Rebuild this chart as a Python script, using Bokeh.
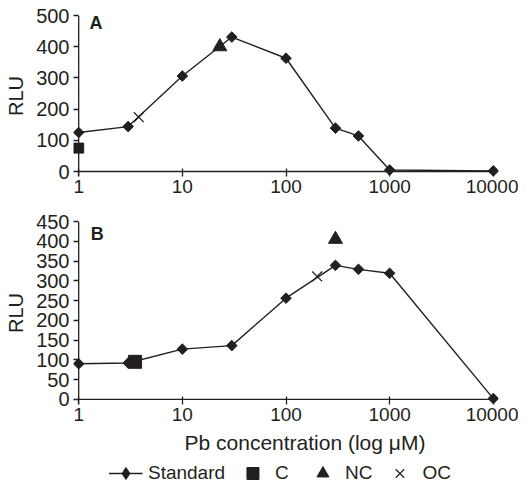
import numpy as np
from bokeh.plotting import figure
from bokeh.layouts import column
from bokeh.models import (FixedTicker, NumeralTickFormatter, Label, Legend,
                          LegendItem, Range1d, Span, Title)
from bokeh.embed import file_html
from bokeh.resources import INLINE

# ---------------- data ----------------
conc = [1, 3, 10, 30, 100, 300, 500, 1000, 10000]
rlu_a = [125, 144, 306, 431, 363, 139, 114, 5, 2]
rlu_b = [90, 92, 127, 136, 256, 339, 329, 319, 2]

c_a_x, c_a_y = [1], [75]
nc_a_x, nc_a_y = [23], [400]
oc_a_x, oc_a_y = [3.8], [174]

c_b_x, c_b_y = [3.5], [95]
nc_b_x, nc_b_y = [300], [405]
oc_b_x, oc_b_y = [200], [311]

x_ticks = [1, 10, 100, 1000, 10000]
y_ticks_a = [0, 100, 200, 300, 400, 500]
y_ticks_b = [0, 50, 100, 150, 200, 250, 300, 350, 400, 450]

legend_labels = ["Standard", "C", "NC", "OC"]
x_title = "Pb concentration (log μM)"
y_title = "RLU"

# ---------------- style ----------------
FONT = "Liberation Sans"
INK = "#231f20"
LEFT = 73
RIGHT = 20
FRAME_W = 425
W = LEFT + FRAME_W + RIGHT
X_RANGE = (10 ** -0.05, 10 ** 4.05)


def make_panel(ys, c, nc, oc, y_range, y_ticks, c_size,
               frame_h, top, bottom, letter, letter_xy):
    p = figure(frame_width=FRAME_W, frame_height=frame_h, x_axis_type="log",
               x_range=Range1d(*X_RANGE), y_range=Range1d(*y_range),
               output_backend="svg", toolbar_location=None,
               min_border_left=LEFT, min_border_right=RIGHT,
               min_border_top=top, min_border_bottom=bottom)
    p.outline_line_color = None
    p.xgrid.visible = False
    p.ygrid.visible = False
    p.background_fill_color = "white"
    p.border_fill_color = "white"

    xa = p.xaxis[0]
    xa.ticker = FixedTicker(ticks=x_ticks)
    xa.formatter = NumeralTickFormatter(format="0")
    xa.major_tick_in = 8
    xa.major_tick_out = 0
    xa.minor_tick_line_color = None
    xa.major_label_standoff = 3
    xa.major_label_text_font_size = "19px"

    ya = p.yaxis[0]
    ya.ticker = FixedTicker(ticks=y_ticks)
    ya.major_tick_in = 5
    ya.major_tick_out = 0
    ya.minor_tick_line_color = None
    ya.major_label_standoff = 4
    ya.major_label_text_font_size = "20px"
    ya.axis_label = y_title
    ya.axis_label_standoff = 6
    ya.axis_label_text_font_style = "normal"
    ya.axis_label_text_font = FONT
    ya.axis_label_text_font_size = "20px"
    ya.axis_label_text_color = INK

    for ax in (xa, ya):
        ax.axis_line_color = None
        ax.major_tick_line_color = INK
        ax.major_tick_line_width = 1.3
        ax.major_label_text_font = FONT
        ax.major_label_text_color = INK

    # axis lines at x = 1 and y = 0
    p.add_layout(Span(location=x_ticks[0], dimension="height",
                      line_color=INK, line_width=1.3))
    p.segment(x0=[x_ticks[0]], y0=[y_ticks[0]], x1=[x_ticks[-1]],
              y1=[y_ticks[0]], line_color=INK, line_width=1.3)

    p.line(conc, ys, line_color=INK, line_width=1.4)
    p.scatter(conc, ys, marker="square", angle=np.pi / 4, size=7.5,
              fill_color=INK, line_color=INK)
    p.scatter(c[0], c[1], marker="square", size=c_size,
              fill_color=INK, line_color=INK)
    p.scatter(nc[0], nc[1], marker="triangle", size=14,
              fill_color=INK, line_color=INK)
    p.scatter(oc[0], oc[1], marker="x", size=14, line_color=INK,
              line_width=1.2)

    p.add_layout(Label(x=letter_xy[0], y=letter_xy[1], text=letter,
                       text_font=FONT, text_font_style="bold",
                       text_font_size="18px", text_color=INK,
                       text_align="center", text_baseline="middle"))
    return p


pA = make_panel(rlu_a, (c_a_x, c_a_y), (nc_a_x, nc_a_y), (oc_a_x, oc_a_y),
                (-16, 500), y_ticks_a, 10,
                frame_h=161, top=15, bottom=25,
                letter="A", letter_xy=(1.47, 475))

pB = make_panel(rlu_b, (c_b_x, c_b_y), (nc_b_x, nc_b_y), (oc_b_x, oc_b_y),
                (-13, 450), y_ticks_b, 13,
                frame_h=183, top=20, bottom=50,
                letter="B", letter_xy=(1.51, 419))

pB.add_layout(Title(text=x_title, align="left", offset=111, standoff=10,
                    text_font=FONT, text_font_size="21px",
                    text_font_style="normal", text_color=INK), "below")

# ---------------- legend strip (renderers lie outside its ranges) ----------------
pL = figure(width=506, height=30, output_backend="svg", toolbar_location=None,
            x_axis_location=None, y_axis_location=None,
            x_range=Range1d(-2, -1), y_range=Range1d(-2, -1),
            min_border_left=0, min_border_right=0,
            min_border_top=0, min_border_bottom=0)
pL.outline_line_color = None
pL.xgrid.visible = False
pL.ygrid.visible = False

r_line = pL.line(conc, rlu_b, line_color=INK, line_width=1.4)
r_dia = pL.scatter(conc, rlu_b, marker="diamond", fill_color=INK,
                   line_color=INK)
r_c = pL.scatter(c_b_x, c_b_y, marker="square", fill_color=INK,
                 line_color=INK)
r_nc = pL.scatter(nc_b_x, nc_b_y, marker="triangle", fill_color=INK,
                  line_color=INK)
r_oc = pL.scatter(oc_b_x, oc_b_y, marker="x", line_color=INK, line_width=1.2)

legend = Legend(items=[LegendItem(label=legend_labels[0], renderers=[r_line, r_dia]),
                       LegendItem(label=legend_labels[1], renderers=[r_c]),
                       LegendItem(label=legend_labels[2], renderers=[r_nc]),
                       LegendItem(label=legend_labels[3], renderers=[r_oc])],
                location="center", orientation="horizontal",
                glyph_width=34, glyph_height=30, label_standoff=6, spacing=10,
                padding=0, margin=0, border_line_color=None,
                background_fill_alpha=0, label_text_font=FONT,
                label_text_font_size="19px", label_text_color=INK)
pL.add_layout(legend)

layout = column(pA, pB, pL, spacing=0)
open("out.html", "w").write(file_html(layout, INLINE))
